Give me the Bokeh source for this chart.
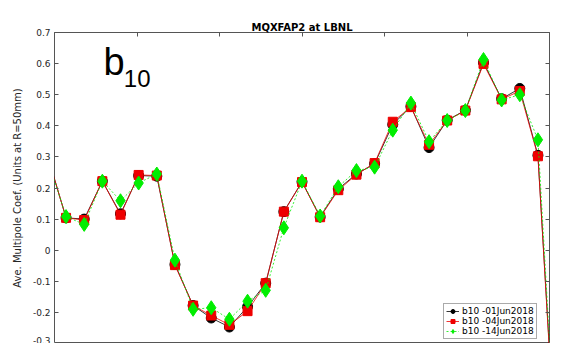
from bokeh.plotting import figure
from bokeh.models import (Range1d, LinearAxis, FixedTicker, Label, Legend,
                          LegendItem, CustomJSTickFormatter)
from bokeh.embed import file_html
from bokeh.resources import INLINE

# Axial measurement positions along the magnet (m)
z_pos = [-0.04, 0.07, 0.18, 0.29, 0.40, 0.51, 0.62, 0.73, 0.84, 0.95,
         1.06, 1.17, 1.28, 1.39, 1.50, 1.61, 1.72, 1.83, 1.94, 2.05,
         2.16, 2.27, 2.38, 2.49, 2.60, 2.71, 2.82, 2.93, 3.04]

# b10 harmonic, averaged, units at R = 50 mm
b10_01jun = [0.30, 0.104, 0.100, 0.222, 0.117, 0.240, 0.238, -0.046, -0.178, -0.218,
             -0.247, -0.182, -0.106, 0.124, 0.220, 0.107, 0.197, 0.245, 0.278, 0.404,
             0.462, 0.330, 0.418, 0.450, 0.603, 0.487, 0.520, 0.305, -0.68]
b10_04jun = [0.30, 0.104, 0.097, 0.222, 0.114, 0.242, 0.240, -0.048, -0.178, -0.210,
             -0.240, -0.196, -0.106, 0.124, 0.219, 0.106, 0.193, 0.243, 0.280, 0.413,
             0.460, 0.339, 0.417, 0.449, 0.599, 0.485, 0.512, 0.302, -0.69]
b10_14jun = [0.29, 0.108, 0.083, 0.222, 0.159, 0.216, 0.245, -0.032, -0.190, -0.185,
             -0.222, -0.164, -0.129, 0.072, 0.222, 0.110, 0.204, 0.256, 0.267, 0.386,
             0.473, 0.349, 0.417, 0.449, 0.613, 0.483, 0.500, 0.355, -0.66]

series_labels = ["b10 -01Jun2018", "b10 -04Jun2018", "b10 -14Jun2018"]
y_ticks = [-0.3, -0.2, -0.1, 0.0, 0.1, 0.2, 0.3, 0.4, 0.5, 0.6, 0.7]
z_ticks = [0.0, 0.5, 1.0, 1.5, 2.0, 2.5, 3.0]

AXIS_GRAY = "#555555"
TEXT_GRAY = "#262626"

p = figure(width=576, height=343, output_backend="svg", toolbar_location=None,
           x_range=Range1d(0.0, 3.0), y_range=Range1d(-0.3, 0.7),
           x_axis_location=None, y_axis_location="left",
           min_border_left=54, min_border_right=27, min_border_top=32,
           min_border_bottom=0, background_fill_color="white",
           border_fill_color="white")
p.grid.visible = False
p.outline_line_color = AXIS_GRAY
p.outline_line_width = 1

# Title
p.title.text = "MQXFAP2 at LBNL"
p.title.align = "center"
p.title.text_font = "DejaVu Sans"
p.title.text_font_size = "10px"
p.title.text_font_style = "bold"
p.title.text_color = "black"
p.title.standoff = 0

# Left axis with labels
ya = p.yaxis[0]
ya.ticker = FixedTicker(ticks=y_ticks)
ya.formatter = CustomJSTickFormatter(
    code="return Math.abs(tick) < 1e-9 ? '0' : tick.toFixed(1);")
ya.axis_label = "Ave. Multipole Coef. (Units at R=50mm)"
ya.axis_label_text_font = "DejaVu Sans"
ya.axis_label_text_font_size = "10px"
ya.axis_label_text_font_style = "normal"
ya.axis_label_text_color = TEXT_GRAY
ya.axis_label_standoff = 7
ya.major_label_text_font = "DejaVu Sans"
ya.major_label_text_font_size = "9px"
ya.major_label_text_color = TEXT_GRAY
ya.major_label_standoff = 4
ya.major_tick_in = 4
ya.major_tick_out = 0
ya.minor_tick_line_color = None
ya.axis_line_color = None
ya.major_tick_line_color = AXIS_GRAY


def tick_only_axis(ticks):
    # box-side axis: inward ticks, no labels
    ax = LinearAxis(ticker=FixedTicker(ticks=ticks),
                    formatter=CustomJSTickFormatter(code="return '';"))
    ax.major_label_standoff = 0
    ax.major_tick_in = 4
    ax.major_tick_out = 0
    ax.minor_tick_line_color = None
    ax.axis_line_color = None
    ax.major_tick_line_color = AXIS_GRAY
    return ax


p.add_layout(tick_only_axis(z_ticks), "above")
p.add_layout(tick_only_axis(y_ticks), "right")

# Series: line plus marker
series = [
    (b10_01jun, "black", "circle", 10, "solid"),
    (b10_04jun, "#ee0000", "square", 9, "solid"),
    (b10_14jun, "#00ee00", "diamond", 14, "2 2"),
]
items = []
for (vals, col, mk, sz, dash), lab in zip(series, series_labels):
    ln = p.line(z_pos, vals, line_color=col, line_width=0.8, line_dash=dash)
    sc = p.scatter(z_pos, vals, marker=mk, size=sz, fill_color=col,
                   line_color=col, line_width=1)
    items.append(LegendItem(label=lab, renderers=[ln, sc]))

legend = Legend(items=items, location=(389, 4))
legend.label_text_font = "DejaVu Sans"
legend.label_text_font_size = "9px"
legend.label_text_color = "black"
legend.glyph_width = 13
legend.glyph_height = 10
legend.label_height = 10
legend.label_standoff = 3
legend.padding = 2
legend.spacing = 0
legend.margin = 0
legend.border_line_color = AXIS_GRAY
legend.border_line_width = 1
legend.background_fill_color = "white"
legend.background_fill_alpha = 1.0
p.add_layout(legend)

# Harmonic name in the upper-left corner
p.add_layout(Label(x=0.297, y=0.605, text="b", text_font="Liberation Sans",
                   text_font_size="38px", text_color="black",
                   text_baseline="middle", text_align="left"))
p.add_layout(Label(x=0.42, y=0.552, text="10", text_font="Liberation Sans",
                   text_font_size="24px", text_color="black",
                   text_baseline="middle", text_align="left"))

open("out.html", "w").write(file_html(p, INLINE))
